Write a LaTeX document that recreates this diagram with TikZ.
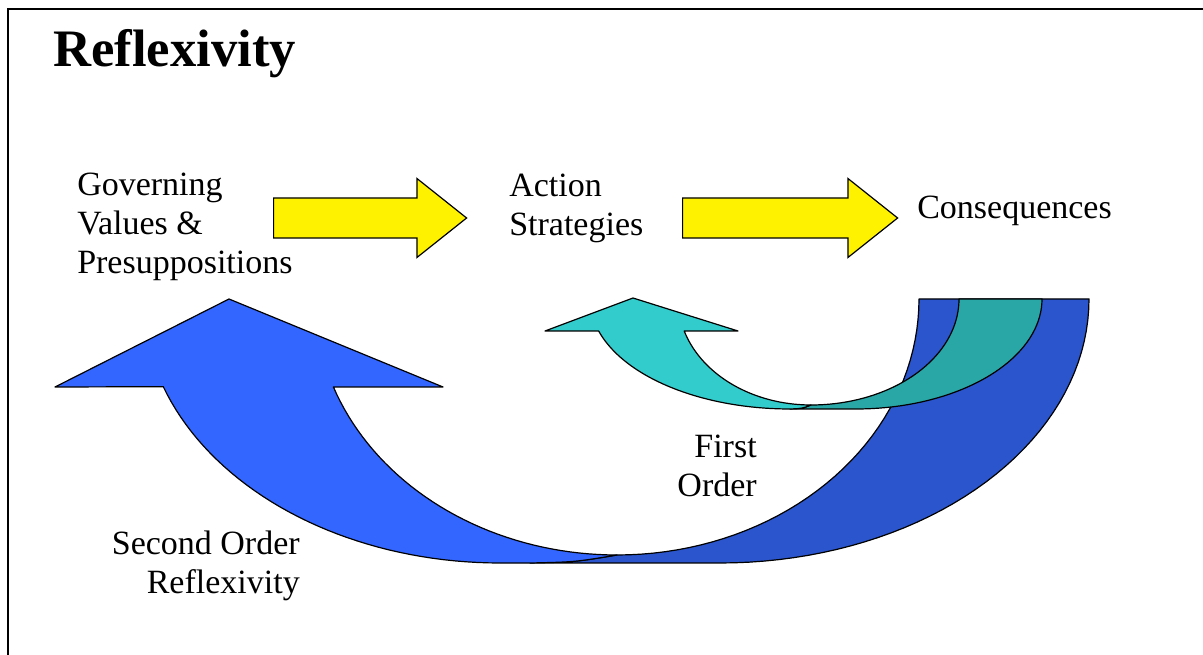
\documentclass[tikz,border=0pt]{standalone}
\usepackage{fontspec}
\setmainfont{Liberation Serif}
\usetikzlibrary{shapes.arrows,positioning}
\definecolor{azulclaro}{HTML}{3366FF}
\definecolor{azuloscuro}{HTML}{2A55CC}
\definecolor{cian}{HTML}{33CCCC}
\definecolor{cianoscuro}{HTML}{29A6A6}
\tikzset{
	titulo/.style={font=\bfseries\fontsize{39.5}{45}\selectfont, inner sep=0pt, anchor=base west},
	texto/.style={font=\fontsize{25.5}{29.25}\selectfont, inner sep=0pt},
	flecha/.style={single arrow, draw=black, fill=yellow, line width=0.9pt, inner xsep=0pt, inner ysep=14.6pt,
		single arrow head extend=14.6pt, single arrow tip angle=77, anchor=tail},
	banda/.style={draw=black, line width=0.9pt, line join=round}
}

\begin{document}
\begin{tikzpicture}[x=0.75pt,y=-0.75pt]
	\useasboundingbox (0,0) rectangle (1203,655);
	\draw[line width=1.5pt] (8,700) -- (8,9.5) -- (1250,9.5);
	
	% textos
	\node[titulo] (titulo) at (53,67) {Reflexivity};
	\node[texto, anchor=base west, align=left] (valores) at (77,274) {Governing\\Values \&\\Presuppositions};
	\node[texto, anchor=base west, align=left] (acciones) at (509,236) {Action\\Strategies};
	\node[texto, anchor=base west] (consec) at (917,219) {Consequences};
	
	% flechas amarillas
	\node[flecha, minimum height=144.75pt] (f1) at (273,218) {};
	\node[flecha, minimum height=161.25pt] (f2) at (682,218) {};
	
	% segundo orden
	\draw[banda, fill=azuloscuro] (1089,299)
		-- plot[domain=0:90, samples=40] ({720+369*cos(\x)},{299+264*sin(\x)})
		-- (530,563) .. controls (575,562) .. (617,555)
		-- plot[domain=90:0, samples=40] ({617+302*cos(\x)},{299+256*sin(\x)})
		-- cycle;
	\draw[banda, fill=azulclaro] (229,299) -- (443,387) -- (333.4,387)
		-- plot[domain=159.9:90, samples=40] ({617+302*cos(\x)},{299+256*sin(\x)})
		.. controls (575,562) .. (530,563) -- (500,563)
		-- plot[domain=90:160.6, samples=40] ({500+357*cos(\x)},{299+264*sin(\x)})
		-- (55,387) -- cycle;
	
	% primer orden
	\draw[banda, fill=cianoscuro] (1042,299)
		-- plot[domain=0:90, samples=40] ({856+186*cos(\x)},{299+110*sin(\x)})
		-- (790,409) .. controls (802,408.5) .. (811,405)
		-- plot[domain=90:0, samples=40] ({811+148*cos(\x)},{299+106*sin(\x)})
		-- cycle;
	\draw[banda, fill=cian] (633,298) -- (738,331) -- (684.2,331)
		-- plot[domain=162.4:90, samples=40] ({811+133*cos(\x)},{299+106*sin(\x)})
		.. controls (802,408.5) .. (790,409)
		-- plot[domain=90:163.1, samples=40] ({790+200*cos(\x)},{299+110*sin(\x)})
		-- (545,331) -- cycle;
	
	\node[texto, anchor=base east, align=right] (primero) at (757,497) {First\\Order};
	\node[texto, anchor=base east, align=right] (segundo) at (300,594) {Second Order\\Reflexivity};
\end{tikzpicture}
\end{document}
